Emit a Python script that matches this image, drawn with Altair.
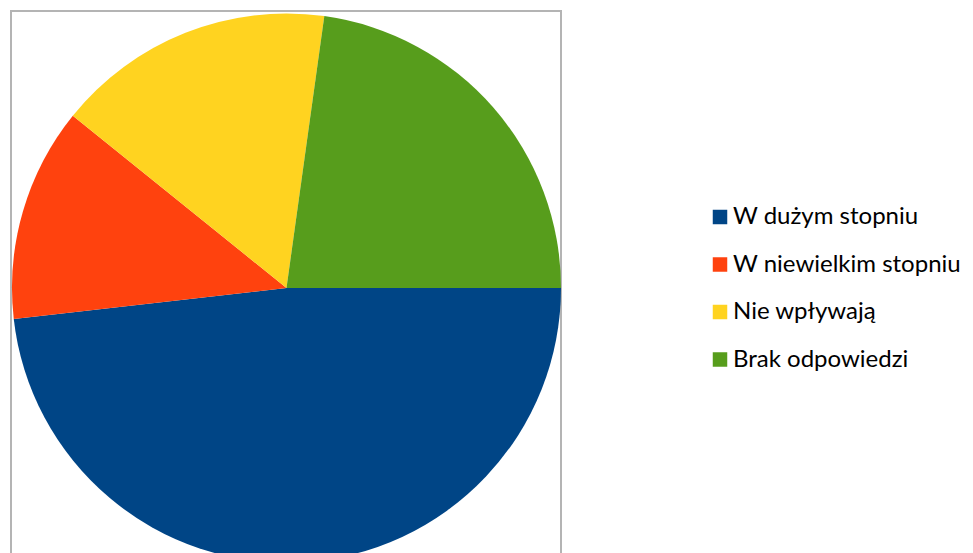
import math
import altair as alt
import pandas as pd

categories = ["W dużym stopniu", "W niewielkim stopniu", "Nie wpływają", "Brak odpowiedzi"]
values = [48.2, 12.6, 16.4, 22.8]
colors = ["#004586", "#ff420e", "#ffd320", "#579d1c"]

df = pd.DataFrame({"kategoria": categories, "wartosc": values, "kolejnosc": list(range(len(categories)))})

chart = (
    alt.Chart(df)
    .mark_arc(stroke=None)
    .encode(
        theta=alt.Theta("wartosc:Q", stack=True,
                        scale=alt.Scale(range=[math.pi / 2, math.pi / 2 + 2 * math.pi])),
        color=alt.Color(
            "kategoria:N",
            scale=alt.Scale(domain=categories, range=colors),
            legend=alt.Legend(
                title=None,
                orient="none",
                legendX=697,
                legendY=194,
                symbolType="square",
                symbolSize=210,
                symbolStrokeWidth=0,
                labelFont="Lato",
                labelFontSize=24,
                labelColor="#000000",
                labelOffset=1,
                rowPadding=23.5,
                labelLimit=400,
                padding=0,
            ),
        ),
        order=alt.Order("kolejnosc:Q"),
        x=alt.value(275.5),
        y=alt.value(277),
        radius=alt.value(274.5),
    )
    .properties(
        width=550,
        height=546,
        padding={"left": 3, "top": 3, "right": 403, "bottom": 0},
        autosize=alt.AutoSizeParams(type="none"),
    )
    .configure_view(stroke="#b4b4b4", strokeWidth=2)
)

chart.save("out.html", embed_options={"renderer": "svg", "actions": False})
